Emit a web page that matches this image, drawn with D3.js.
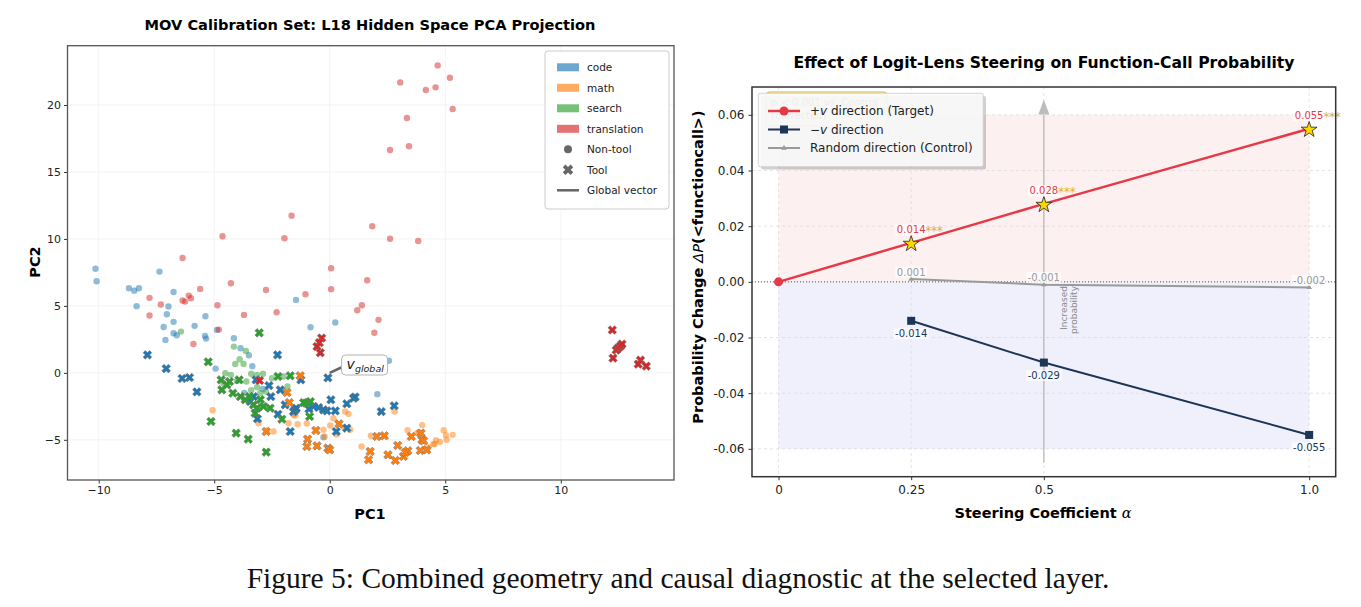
<!DOCTYPE html>
<html>
<meta charset="utf-8">
<style>
body { margin: 0; background: #fff; }
svg { font-family: "DejaVu Sans", sans-serif; }
.axis path { display: none; }
.axis line { stroke: #333; }
.axis text { fill: #222; }
</style>
<body>
<script src="https://d3js.org/d3.v7.min.js"></script>
<script>
// ---------- left panel: PCA points [PC1, PC2] ----------
var codeNon = [[-10.14,7.78],[-10.09,6.84],[-8.69,6.32],[-8.46,6.14],[-8.26,6.32],[-8.36,4.98],[-7.37,7.56],[-6.76,6.04],
  [-6.98,4.95],[-7.05,4.38],[-6.76,3.81],[-7.19,3.43],[-6.76,2.96],[-6.62,2.81],[-7.11,2.46],[-5.85,3.51],[-5.38,4.23],
  [-4.88,3.21],[-5.40,2.76],[-5.35,2.56],[-4.15,2.59],[-3.86,1.84],[-3.50,1.32],[-3.35,0.50],[-4.94,0.32],[-1.46,5.45],
  [-0.83,3.41],[0.24,3.76],[2.06,-1.59],[2.56,0.90],[-0.27,-4.8],[-2.9,-1.2],[-3.7,-1.5]];
var codeTool = [[-7.89,1.34],[-7.08,0.32],[-6.39,-0.42],[-6.07,-0.35],[-5.75,-1.42],[-2.26,1.34],[-3.19,-0.52],[-2.63,-0.95],
  [-2.55,-1.77],[-2.14,-1.27],[-2.24,-3.09],[-1.71,-4.38],[-1.25,-0.52],[-1.49,-2.76],[-0.08,-0.37],[0.05,-2.01],[-0.70,-2.51],
  [-0.48,-2.59],[-0.12,-2.84],[0.24,-2.84],[0.74,-2.31],[1.03,-1.89],[0.28,-4.38],[0.74,-4.13],[-3.13,-3.43],[-3.30,-1.77],
  [-3.44,-2.14],[2.23,-2.89],[2.79,-2.46],[-0.27,-2.76],[-1.57,-2.89],[-1.45,-2.64],[-1.93,-2.39],[-0.9,-2.7],[1.1,-1.8]];
var mathNon = [[-5.07,-2.79],[-3.08,-3.76],[-2.43,-4.38],[-1.39,-3.83],[-0.99,-3.78],[-1.49,-3.19],[-0.27,-4.25],[-0.22,-4.75],
  [0.02,-3.93],[0.67,-2.89],[0.81,-3.06],[0.89,-4.25],[1.38,-5.5],[0.16,-3.38],[2.81,-2.89],[4.0,-3.9],[3.37,-4.28],[3.87,-4.43],
  [4.93,-4.28],[5.03,-4.65],[5.32,-4.63],[5.06,-5.0],[4.6,-5.02],[4.77,-5.15],[4.54,-5.32],[1.78,-4.70],[-2.72,-4.3],[-1.78,-3.76],
  [-1.57,-3.13],[0.63,-4.08],[4.28,-5.55],[4.49,-5.3],[3.77,-4.5],[0.3,-4.6]];
var mathTool = [[-1.28,-0.22],[-1.85,-1.47],[-1.75,-2.22],[-2.75,-4.38],[-0.60,-4.3],[-0.96,-4.95],[-0.99,-5.5],[-0.55,-5.45],
  [-0.08,-5.62],[0.0,-5.75],[0.40,-3.81],[2.04,-4.75],[1.75,-5.87],[1.68,-6.49],[2.36,-4.70],[2.52,-6.12],[2.84,-6.54],[2.94,-5.42],
  [3.38,-5.82],[3.19,-6.24],[3.53,-4.75],[3.95,-4.5],[3.99,-5.0],[4.06,-5.07],[3.92,-5.8],[4.2,-5.75],[3.27,-5.95]];
var searchNon = [[-6.44,3.08],[-4.15,1.96],[-3.63,1.64],[-3.90,1.02],[-4.09,0.67],[-3.73,0.67],[-4.52,-0.02],[-4.28,-0.15],
  [-3.40,-0.07],[-3.15,-0.15],[-2.89,-0.07],[-4.02,-0.6],[-3.61,-0.65],[-3.15,-1.07],[-2.0,-0.27],[-1.83,-1.02],[-3.01,-1.52],
  [-2.76,-1.40],[-4.6,-0.8],[-3.4,-1.3],[-2.5,-0.4]];
var searchTool = [[-3.05,2.99],[-5.26,0.82],[-4.70,-0.52],[-4.34,-0.65],[-3.92,-0.52],[-4.67,-1.27],[-4.19,-1.52],[-3.87,-1.77],
  [-3.66,-2.01],[-3.47,-1.77],[-3.30,-2.39],[-3.15,-2.64],[-3.23,-3.01],[-2.87,-2.51],[-2.58,-2.64],[-2.07,-3.46],[-2.24,-0.27],
  [-1.71,-0.22],[-1.02,-2.26],[-0.84,-2.14],[-0.87,-3.26],[-5.14,-3.63],[-4.05,-4.5],[-3.53,-4.95],[-2.75,-5.92],[-1.13,-2.22],
  [-4.45,-0.9],[-3.0,-2.0]];
var transNon = [[4.67,22.96],[5.20,22.04],[3.05,21.69],[4.16,21.12],[4.58,21.32],[5.32,19.70],[3.34,19.03],[2.61,16.64],
  [3.43,16.92],[1.84,10.95],[2.61,10.02],[3.83,9.85],[-6.37,8.58],[-4.64,10.20],[-1.96,10.05],[-1.65,11.74],[-4.28,6.69],
  [0.06,7.81],[0.06,6.25],[1.62,6.92],[-2.76,6.19],[-1.05,5.87],[-5.61,6.27],[-7.80,5.60],[-7.31,5.10],[-7.80,4.28],[-6.10,5.77],
  [-6.01,5.57],[-6.37,5.40],[-6.26,5.32],[-4.86,5.05],[-3.71,4.33],[-2.30,4.53],[-4.80,3.23],[-5.90,2.16],[1.19,4.68],[1.39,5.05],
  [2.11,3.96],[1.93,2.99]];
var transTool = [[-3.04,-0.57],[-0.35,2.6],[-0.45,2.25],[-0.55,1.96],[-0.41,1.5],[12.23,3.2],[12.26,1.1],[12.4,1.7],[12.48,1.85],
  [12.58,2.0],[12.65,2.15],[13.45,0.95],[13.35,0.65],[13.7,0.5]];
var globalVec = [0.5, 0.4];

var categories = ["code", "math", "search", "translation"];
var pcXTicks = [-10, -5, 0, 5, 10];
var pcYTicks = [-5, 0, 5, 10, 15, 20];

// ---------- right panel: steering effect ----------
var alphaTicks = [0, 0.25, 0.5, 1.0];
var alphaTickLabels = ["0", "0.25", "0.5", "1.0"];
var plusAlphas = [0, 0.25, 0.5, 1.0];
var plusVals = [0, 0.014, 0.028, 0.055];
var minusAlphas = [0.25, 0.5, 1.0];
var minusVals = [-0.014, -0.029, -0.055];
var randAlphas = [0.25, 0.5, 1.0];
var randVals = [0.001, -0.001, -0.002];
var dpTicks = [-0.06, -0.04, -0.02, 0, 0.02, 0.04, 0.06];

var color = d3.scaleOrdinal().domain(categories).range(["#1f77b4", "#ff7f0e", "#2ca02c", "#d62728"]);
var red = "#e63946", navy = "#1d3557", grey = "#9a9a9a";

var svg = d3.select("body").append("svg").attr("width", 1361).attr("height", 607);
svg.append("rect").attr("width", 1361).attr("height", 607).attr("fill", "#fff");

// X-shaped marker (matplotlib "X")
function xPath(s, w) {
  var p = [[-w,-s],[w,-s],[w,-w],[s,-w],[s,w],[w,w],[w,s],[-w,s],[-w,w],[-s,w],[-s,-w],[-w,-w]];
  return "M" + p.map(function(d) { return d.join(","); }).join("L") + "Z";
}

// ================= LEFT PANEL =================
var L = {left: 67.5, right: 674, top: 45.7, bottom: 480};
var xL = d3.scaleLinear().domain([-11.35, 14.9]).range([L.left, L.right]);
var yL = d3.scaleLinear().domain([-8, 24.43]).range([L.bottom, L.top]);
var gl = svg.append("g");

// grid
gl.selectAll(".gx").data(pcXTicks).enter().append("line")
  .attr("x1", xL).attr("x2", xL).attr("y1", L.top).attr("y2", L.bottom)
  .attr("stroke", "#f0f0f0").attr("stroke-width", 0.8);
gl.selectAll(".gy").data(pcYTicks).enter().append("line")
  .attr("y1", yL).attr("y2", yL).attr("x1", L.left).attr("x2", L.right)
  .attr("stroke", "#f0f0f0").attr("stroke-width", 0.8);

var nonSets = [codeNon, mathNon, searchNon, transNon];
var toolSets = [codeTool, mathTool, searchTool, transTool];

categories.forEach(function(c, i) {
  gl.append("g").selectAll("circle").data(nonSets[i]).enter().append("circle")
    .attr("cx", function(d) { return xL(d[0]); })
    .attr("cy", function(d) { return yL(d[1]); })
    .attr("r", 3.2)
    .attr("fill", color(c))
    .attr("fill-opacity", 0.5);
});
categories.forEach(function(c, i) {
  gl.append("g").selectAll("path").data(toolSets[i]).enter().append("path")
    .attr("d", xPath(4.6, 1.5))
    .attr("transform", function(d) { return "translate(" + xL(d[0]) + "," + yL(d[1]) + ") rotate(45)"; })
    .attr("fill", color(c))
    .attr("stroke", "#777").attr("stroke-opacity", 0.7).attr("stroke-width", 0.8);
});

// global vector + annotation
gl.append("line")
  .attr("x1", xL(0)).attr("y1", yL(0)).attr("x2", xL(globalVec[0])).attr("y2", yL(globalVec[1]))
  .attr("stroke", "#666").attr("stroke-width", 2.5);
var ann = gl.append("g").attr("transform", "translate(" + (xL(globalVec[0]) + 0.3) + "," + (yL(globalVec[1]) - 12.5) + ")");
ann.append("rect").attr("x", 0).attr("y", 0).attr("width", 46).attr("height", 20).attr("rx", 4)
  .attr("fill", "#fff").attr("stroke", "#aaa").attr("stroke-width", 0.9);
var at = ann.append("text").attr("x", 5).attr("y", 14).attr("font-style", "italic").attr("fill", "#222");
at.append("tspan").attr("font-size", 14).text("v");
at.append("tspan").attr("font-size", 9.5).attr("dy", 3).text("global");

// axes
gl.append("g").attr("class", "axis").attr("transform", "translate(0," + L.bottom + ")")
  .call(d3.axisBottom(xL).tickValues(pcXTicks).tickSize(3.5).tickPadding(3))
  .selectAll("text").attr("font-size", 11).attr("font-family", "DejaVu Sans");
gl.append("g").attr("class", "axis").attr("transform", "translate(" + L.left + ",0)")
  .call(d3.axisLeft(yL).tickValues(pcYTicks).tickSize(3.5).tickPadding(3))
  .selectAll("text").attr("font-size", 11).attr("font-family", "DejaVu Sans");
gl.append("rect").attr("x", L.left).attr("y", L.top).attr("width", L.right - L.left).attr("height", L.bottom - L.top)
  .attr("fill", "none").attr("stroke", "#555").attr("stroke-width", 1.3);

gl.append("text").attr("x", 370).attr("y", 29.5).attr("text-anchor", "middle")
  .attr("font-size", 14.6).attr("font-weight", "bold").text("MOV Calibration Set: L18 Hidden Space PCA Projection");
gl.append("text").attr("x", 370).attr("y", 519).attr("text-anchor", "middle")
  .attr("font-size", 14.5).attr("font-weight", "bold").text("PC1");
gl.append("text").attr("transform", "translate(40,262) rotate(-90)").attr("text-anchor", "middle")
  .attr("font-size", 14.5).attr("font-weight", "bold").text("PC2");

// legend
var lg = gl.append("g");
lg.append("rect").attr("x", 545).attr("y", 51).attr("width", 124).attr("height", 158).attr("rx", 3)
  .attr("fill", "#fff").attr("fill-opacity", 0.9).attr("stroke", "#ccc");
var legItems = categories.concat(["Non-tool", "Tool", "Global vector"]);
legItems.forEach(function(name, i) {
  var y = 67.3 + i * 20.5;
  if (i < 4) {
    lg.append("rect").attr("x", 557).attr("y", y - 4).attr("width", 22).attr("height", 8)
      .attr("fill", color(name)).attr("fill-opacity", 0.65);
  } else if (name === "Non-tool") {
    lg.append("circle").attr("cx", 568).attr("cy", y).attr("r", 4).attr("fill", "#666");
  } else if (name === "Tool") {
    lg.append("path").attr("d", xPath(5.5, 1.9)).attr("transform", "translate(568," + y + ") rotate(45)").attr("fill", "#666");
  } else {
    lg.append("line").attr("x1", 557).attr("x2", 579).attr("y1", y).attr("y2", y).attr("stroke", "#666").attr("stroke-width", 2.5);
  }
  lg.append("text").attr("x", 587).attr("y", y).attr("dominant-baseline", "central")
    .attr("font-size", 10.5).attr("fill", "#222").text(name);
});

// ================= RIGHT PANEL =================
var R = {left: 752, right: 1335.7, top: 87, bottom: 476.7};
var xR = d3.scaleLinear().domain([-0.05, 1.05]).range([R.left, R.right]);
var yR = d3.scaleLinear().domain([-0.07, 0.07]).range([R.bottom, R.top]);
var gr = svg.append("g");

// shaded regions
gr.append("rect").attr("x", xR(0)).attr("y", yR(0.06)).attr("width", xR(1) - xR(0)).attr("height", yR(0) - yR(0.06))
  .attr("fill", "#fdf0f1");
gr.append("rect").attr("x", xR(0)).attr("y", yR(0)).attr("width", xR(1) - xR(0)).attr("height", yR(-0.06) - yR(0))
  .attr("fill", "#eff0fc");

// grid
gr.selectAll(".gx").data(alphaTicks).enter().append("line")
  .attr("x1", xR).attr("x2", xR).attr("y1", R.top).attr("y2", R.bottom)
  .attr("stroke", "#d8d8d8").attr("stroke-width", 0.7).attr("stroke-dasharray", "3,3");
gr.selectAll(".gy").data(dpTicks).enter().append("line")
  .attr("y1", yR).attr("y2", yR).attr("x1", R.left).attr("x2", R.right)
  .attr("stroke", "#d8d8d8").attr("stroke-width", 0.7).attr("stroke-dasharray", "3,3");

// zero line
gr.append("line").attr("x1", R.left).attr("x2", R.right).attr("y1", yR(0)).attr("y2", yR(0))
  .attr("stroke", "#555").attr("stroke-width", 1).attr("stroke-dasharray", "1,2");

// vertical arrow at alpha = 0.5
gr.append("line").attr("x1", xR(0.5)).attr("x2", xR(0.5)).attr("y1", yR(-0.065)).attr("y2", yR(0.06))
  .attr("stroke", "#b5b5b5").attr("stroke-width", 1.2);
gr.append("path")
  .attr("d", "M" + xR(0.5) + "," + yR(0.0655) + "l-5.5,15l11,0Z")
  .attr("fill", "#bdbdbd");
var inc = gr.append("text").attr("transform", "translate(" + (xR(0.5) + 31) + "," + yR(-0.0015) + ") rotate(-90)")
  .attr("text-anchor", "end").attr("font-size", 9).attr("fill", "#8a8a8a");
inc.append("tspan").attr("x", 0).attr("dy", "-0.9em").text("Increased");
inc.append("tspan").attr("x", 0).attr("dy", "1.15em").text("probability");

// lines
var line = d3.line().x(function(d) { return xR(d[0]); }).y(function(d) { return yR(d[1]); });
var plusData = d3.zip(plusAlphas, plusVals);
var minusData = d3.zip(minusAlphas, minusVals);
var randData = d3.zip(randAlphas, randVals);

gr.append("path").datum(randData).attr("d", line).attr("fill", "none").attr("stroke", grey).attr("stroke-width", 2);
gr.append("path").datum(minusData).attr("d", line).attr("fill", "none").attr("stroke", navy).attr("stroke-width", 2);
gr.append("path").datum(plusData).attr("d", line).attr("fill", "none").attr("stroke", red).attr("stroke-width", 2.5);

// markers
gr.selectAll(".tri").data(randData).enter().append("path")
  .attr("d", d3.symbol(d3.symbolTriangle, 14))
  .attr("transform", function(d) { return "translate(" + xR(d[0]) + "," + yR(d[1]) + ")"; })
  .attr("fill", grey);
gr.selectAll(".sq").data(minusData).enter().append("rect")
  .attr("x", function(d) { return xR(d[0]) - 4; }).attr("y", function(d) { return yR(d[1]) - 4; })
  .attr("width", 8).attr("height", 8).attr("fill", navy);
gr.append("circle").attr("cx", xR(plusData[0][0])).attr("cy", yR(plusData[0][1])).attr("r", 4.5).attr("fill", red);
gr.selectAll(".star").data(plusData.slice(1)).enter().append("path")
  .attr("d", d3.symbol(d3.symbolStar, 78))
  .attr("transform", function(d) { return "translate(" + xR(d[0]) + "," + (yR(d[1]) + 1) + ")"; })
  .attr("fill", "#ffd700").attr("stroke", "#222").attr("stroke-width", 0.8);

// value labels
function valueLabel(x, y, val, col, stars) {
  var g = gr.append("g");
  var bg = g.append("rect");
  var t = g.append("text").attr("x", x).attr("y", y).attr("text-anchor", "middle").attr("dominant-baseline", "central")
    .attr("font-size", 10).attr("fill", col).text(val.toFixed(3));
  var b = t.node().getBBox();
  bg.attr("x", b.x - 1.5).attr("y", b.y).attr("width", b.width + 3).attr("height", b.height)
    .attr("fill", "#fff").attr("fill-opacity", 0.7);
  if (stars) {
    g.append("text").attr("x", b.x + b.width).attr("y", y + 1.5).attr("dominant-baseline", "central")
      .attr("font-size", 11.5).attr("fill", "#e0b030").text("***");
  }
}
plusData.slice(1).forEach(function(d) { valueLabel(xR(d[0]), yR(d[1]) - 13, d[1], red, true); });
minusData.forEach(function(d) { valueLabel(xR(d[0]), yR(d[1]) + 13, d[1], navy, false); });
randData.forEach(function(d) { valueLabel(xR(d[0]), yR(d[1]) - 7, d[1], grey, false); });

// axes
gr.append("g").attr("class", "axis").attr("transform", "translate(0," + R.bottom + ")")
  .call(d3.axisBottom(xR).tickValues(alphaTicks).tickSize(3.5).tickPadding(5)
    .tickFormat(function(d, i) { return alphaTickLabels[i]; }))
  .selectAll("text").attr("font-size", 12).attr("font-family", "DejaVu Sans");
gr.append("g").attr("class", "axis").attr("transform", "translate(" + R.left + ",0)")
  .call(d3.axisLeft(yR).tickValues(dpTicks).tickSize(3.5).tickPadding(4)
    .tickFormat(function(d) { return d.toFixed(2); }))
  .selectAll("text").attr("font-size", 12).attr("font-family", "DejaVu Sans");
gr.append("rect").attr("x", R.left).attr("y", R.top).attr("width", R.right - R.left).attr("height", R.bottom - R.top)
  .attr("fill", "none").attr("stroke", "#333").attr("stroke-width", 1.5);

// significance note, mostly hidden under the legend
var note = gr.append("g");
note.append("rect").attr("x", 766).attr("y", 92).attr("width", 121).attr("height", 34).attr("rx", 4)
  .attr("fill", "#fff8dc").attr("stroke", "#e0b030").attr("stroke-width", 1.2);
note.append("text").attr("x", 771).attr("y", 106).attr("font-size", 10).attr("fill", "#555").text("p < 0.001 vs. Control");
note.append("text").attr("x", 771).attr("y", 119).attr("font-size", 10).attr("fill", "#555").text("(corrected)");

// legend
var rl = gr.append("g");
rl.append("rect").attr("x", 761).attr("y", 96).attr("width", 225).attr("height", 73.4).attr("rx", 2)
  .attr("fill", "#000").attr("fill-opacity", 0.18);
rl.append("rect").attr("x", 758.3).attr("y", 93.3).attr("width", 225).attr("height", 73.4).attr("rx", 2)
  .attr("fill", "#fafafa").attr("fill-opacity", 0.93).attr("stroke", "#ccc").attr("stroke-width", 0.8);
var legR = [
  {pre: "+", label: " direction (Target)", col: red, mk: "circle", lw: 2.5},
  {pre: "\u2212", label: " direction", col: navy, mk: "square", lw: 2},
  {pre: "", label: "Random direction (Control)", col: grey, mk: "triangle", lw: 2}
];
legR.forEach(function(it, i) {
  var y = 111 + i * 18.5;
  rl.append("line").attr("x1", 768).attr("x2", 800).attr("y1", y).attr("y2", y).attr("stroke", it.col).attr("stroke-width", it.lw);
  if (it.mk === "circle") rl.append("circle").attr("cx", 784).attr("cy", y).attr("r", 4.5).attr("fill", it.col);
  else if (it.mk === "square") rl.append("rect").attr("x", 780).attr("y", y - 4).attr("width", 8).attr("height", 8).attr("fill", it.col);
  else rl.append("path").attr("d", d3.symbol(d3.symbolTriangle, 14)).attr("transform", "translate(784," + y + ")").attr("fill", it.col);
  var t = rl.append("text").attr("x", 810).attr("y", y).attr("dominant-baseline", "central").attr("font-size", 12).attr("fill", "#222");
  if (i < 2) {
    t.append("tspan").text(it.pre);
    t.append("tspan").attr("font-style", "italic").text("v");
  }
  t.append("tspan").text(it.label);
});

// titles and labels
gr.append("text").attr("x", 1044).attr("y", 67.5).attr("text-anchor", "middle")
  .attr("font-size", 15.6).attr("font-weight", "bold").text("Effect of Logit-Lens Steering on Function-Call Probability");
var xlab = gr.append("text").attr("x", 1043).attr("y", 517.5).attr("text-anchor", "middle").attr("font-size", 14.5).attr("font-weight", "bold");
xlab.append("tspan").text("Steering Coefficient ");
xlab.append("tspan").attr("font-style", "italic").attr("font-weight", "normal").attr("font-family", "DejaVu Serif").text("\u03b1");
var ylab = gr.append("text").attr("transform", "translate(703,267) rotate(-90)").attr("text-anchor", "middle")
  .attr("font-size", 14.5).attr("font-weight", "bold");
ylab.append("tspan").text("Probability Change ");
ylab.append("tspan").attr("font-style", "italic").attr("font-weight", "normal").text("\u0394P");
ylab.append("tspan").text("(<functioncall>)");

// caption
svg.append("text").attr("x", 678).attr("y", 588).attr("text-anchor", "middle")
  .attr("font-family", "Liberation Serif, serif").attr("font-size", 29.5).attr("fill", "#111")
  .text("Figure 5: Combined geometry and causal diagnostic at the selected layer.");
</script>
</body>
</html>
